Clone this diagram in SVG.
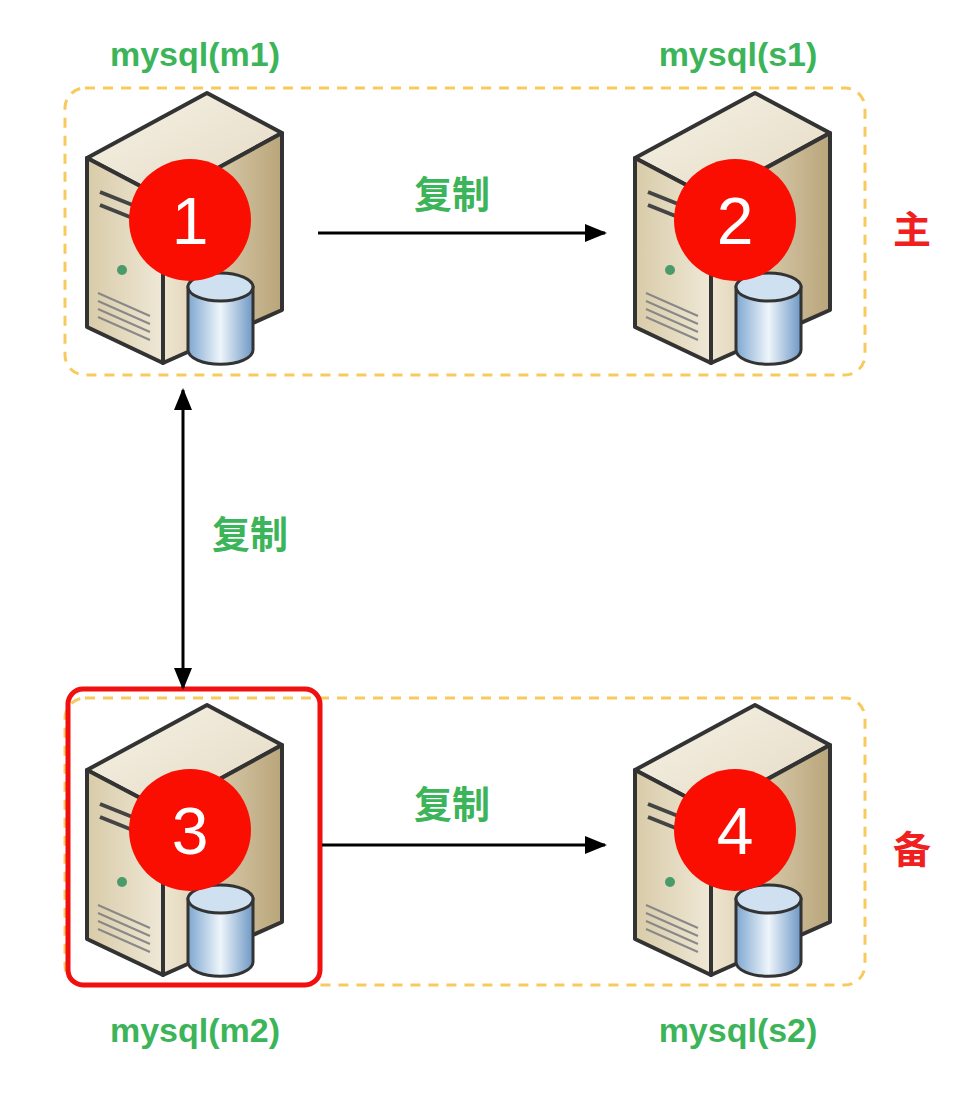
<svg xmlns="http://www.w3.org/2000/svg" width="978" height="1094" viewBox="0 0 978 1094">
<style>
.lbl{font-family:"Liberation Sans",sans-serif;font-weight:bold;font-size:34px;fill:#3cb45a;text-anchor:middle}
.cn{font-family:"Noto Sans CJK SC",sans-serif;font-weight:bold;font-size:38px;text-anchor:middle}
.num{font-family:"Liberation Sans",sans-serif;font-size:66px;fill:#fff;text-anchor:middle}
.grp{fill:none;stroke:#f8c95c;stroke-width:3;stroke-dasharray:10 8}
.ln{stroke:#000;stroke-width:3;fill:none}
</style>
<defs>
<linearGradient id="top" x1="0" y1="0" x2="1" y2="1"><stop offset="0" stop-color="#f6f2e8"/><stop offset="1" stop-color="#e4dac2"/></linearGradient>
<linearGradient id="front" x1="0" y1="0" x2="1" y2="0"><stop offset="0" stop-color="#d8cba8"/><stop offset="1" stop-color="#efe8d6"/></linearGradient>
<linearGradient id="side" x1="0" y1="0" x2="1" y2="0"><stop offset="0" stop-color="#efe6d0"/><stop offset="1" stop-color="#b9a57a"/></linearGradient>
<linearGradient id="cyl" x1="0" y1="0" x2="1" y2="0"><stop offset="0" stop-color="#7ea7d0"/><stop offset="0.5" stop-color="#eef5fb"/><stop offset="1" stop-color="#6e98c4"/></linearGradient>
<marker id="ah" markerWidth="22" markerHeight="18" refX="20" refY="9" orient="auto-start-reverse" markerUnits="userSpaceOnUse" viewBox="0 0 22 18"><path d="M0,0 L22,9 L0,18 z" fill="#000"/></marker>
<g id="srv">
<path d="M87,158 L207,93 L282,133 L163,198 Z" fill="url(#top)" stroke="#333" stroke-width="4" stroke-linejoin="round"/>
<path d="M87,158 L163,198 L163,363 L87,327 Z" fill="url(#front)" stroke="#333" stroke-width="4" stroke-linejoin="round"/>
<path d="M163,198 L282,133 L282,310 L163,363 Z" fill="url(#side)" stroke="#333" stroke-width="4" stroke-linejoin="round"/>
<path d="M100,192 L150,212 M100,205 L150,225" stroke="#444" stroke-width="4"/>
<circle cx="122" cy="270" r="5" fill="#4a9a6a"/>
<path d="M98,293 L150,316 M98,301 L150,324 M98,309 L150,332 M98,317 L150,340" stroke="#888" stroke-width="2"/>
<path d="M188,287 L188,350 A32,14 0 0 0 253,350 L253,287 Z" fill="url(#cyl)" stroke="#333" stroke-width="3"/>
<ellipse cx="220.5" cy="287" rx="32.5" ry="14" fill="#cfe0f0" stroke="#333" stroke-width="3"/>
</g>
</defs>
<rect class="grp" x="65" y="88" width="800" height="287" rx="20"/>
<rect class="grp" x="65" y="698" width="800" height="287" rx="20"/>
<g id="n1"><use href="#srv"/><circle cx="190" cy="220" r="61" fill="#fa0e02"/><text class="num" x="190" y="244">1</text><text class="lbl" x="195" y="66">mysql(m1)</text></g>
<g id="n2"><use href="#srv" x="548"/><circle cx="735" cy="220" r="61" fill="#fa0e02"/><text class="num" x="735" y="244">2</text><text class="lbl" x="738" y="66">mysql(s1)</text></g>
<g id="n3"><use href="#srv" y="612"/><circle cx="190" cy="830" r="61" fill="#fa0e02"/><text class="num" x="190" y="854">3</text><text class="lbl" x="195" y="1042">mysql(m2)</text>
<rect x="68" y="689" width="252" height="296" rx="15" fill="none" stroke="#f01010" stroke-width="5"/></g>
<g id="n4"><use href="#srv" x="548" y="612"/><circle cx="735" cy="830" r="61" fill="#fa0e02"/><text class="num" x="735" y="854">4</text><text class="lbl" x="738" y="1042">mysql(s2)</text></g>
<text class="cn" x="912" y="243" fill="#f02020">主</text>
<text class="cn" x="912" y="863" fill="#f02020">备</text>
<g id="connectors">
<line class="ln" x1="318" y1="233" x2="605" y2="233" marker-end="url(#ah)"/>
<line class="ln" x1="183" y1="390" x2="183" y2="688" marker-start="url(#ah)" marker-end="url(#ah)"/>
<line class="ln" x1="322" y1="845" x2="605" y2="845" marker-end="url(#ah)"/>
<text class="cn" x="452" y="208" fill="#3cb45a">复制</text>
<text class="cn" x="250" y="548" fill="#3cb45a">复制</text>
<text class="cn" x="452" y="818" fill="#3cb45a">复制</text>
</g>
</svg>
